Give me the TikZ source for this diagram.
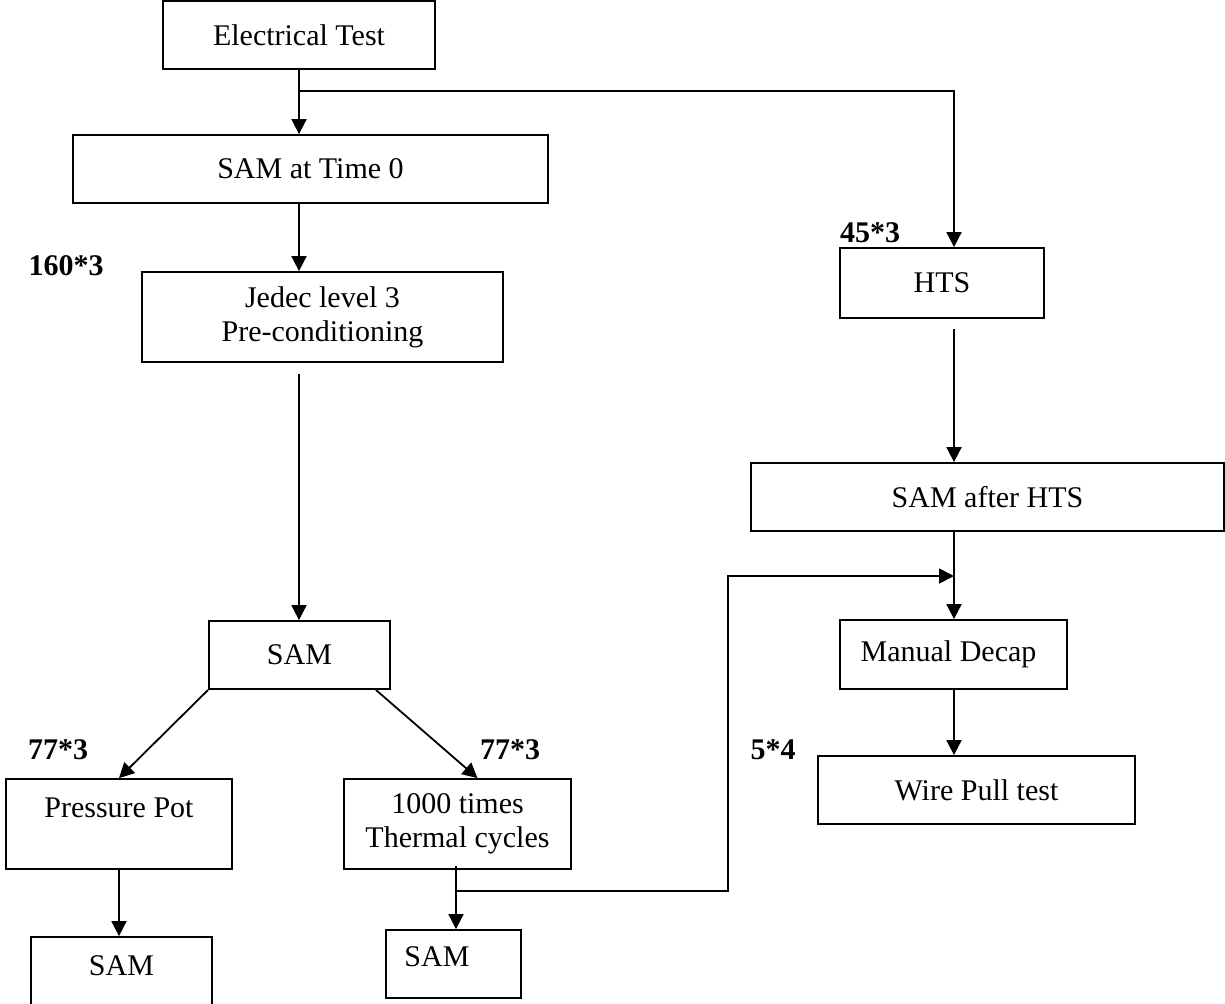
\documentclass[tikz,border=0pt]{standalone}
\usepackage{fontspec}
\setmainfont{Liberation Serif}
\usetikzlibrary{arrows.meta,calc}
\begin{document}
\begin{tikzpicture}[x=0.5pt,y=-0.5pt,
  font=\fontsize{15pt}{17pt}\selectfont,
  box/.style={draw, line width=0.9pt, inner sep=0pt, align=center},
  arr/.style={line width=0.9pt, -{Triangle[width=7.5pt,length=7.5pt]}},
  ln/.style={line width=0.9pt},
  num/.style={font=\fontsize{15pt}{17pt}\selectfont\bfseries, inner sep=0pt}]
\useasboundingbox (0,0) rectangle (1225,1003);

% boxes
\node[box, minimum width=136pt, minimum height=34pt] (et) at (299,35) {Electrical Test};
\node[box, minimum width=237.5pt, minimum height=34pt] (t0) at (310.5,169) {SAM at Time 0};
\node[box, minimum width=180.5pt, minimum height=45pt] (jd) at (322.5,317) {Jedec level 3\\Pre-conditioning};
\node[box, minimum width=102pt, minimum height=35pt] (hts) at (942,283) {HTS};
\node[box, minimum width=236.5pt, minimum height=34pt] (sah) at (987.5,497) {SAM after HTS};
\node[box, minimum width=113.5pt, minimum height=34.5pt] (md) at (953.5,654.5) {Manual Decap\hspace*{5pt}};
\node[box, minimum width=158.5pt, minimum height=34pt] (wp) at (976.5,790) {Wire Pull test};
\node[box, minimum width=90.5pt, minimum height=34pt] (sm) at (299.5,655) {SAM};
\node[box, minimum width=113pt, minimum height=45pt] (pp) at (119,824) {Pressure Pot\\[-6pt]\strut};
\node[box, minimum width=113.5pt, minimum height=45pt] (tc) at (457.5,824) {1000 times\\Thermal cycles};
\node[box, minimum width=90.5pt, minimum height=45pt] (sb1) at (121.5,982) {SAM\\[-6pt]\strut};
\node[box, minimum width=67.5pt, minimum height=34pt] (sb2) at (453.5,964) {};
\node (sb2t) at (437,957) {SAM};

% quantity labels
\node[num] (n1) at (66,266) {160*3};
\node[num] (n2) at (870,233) {45*3};
\node[num] (n3) at (58,750) {77*3};
\node[num] (n4) at (510,750) {77*3};
\node[num] (n5) at (773,750) {5*4};

% helper coordinates
\coordinate (br) at (299,91);
\coordinate (rx) at (954,0);
\coordinate (jdout) at (299,374);
\coordinate (htsout) at (954,329);
\coordinate (tcout) at (456,866);
\coordinate (jn) at (456,891);
\coordinate (up) at (728,576);

% connectors
\draw[arr] (et.south) -- (t0.north -| et.south);
\draw[arr] (br) -| (hts.north -| rx);
\draw[arr] (t0.south -| et.south) -- (jd.north -| et.south);
\draw[arr] (jdout) -- (sm.north -| jdout);
\draw[arr] (sm.south west) -- (pp.north);
\draw[arr] ($(sm.south east)+(-15,0)$) -- ($(tc.north)+(20,0)$);
\draw[arr] (pp.south) -- (pp.south |- sb1.north);
\draw[arr] (tcout) -- (tcout |- sb2.north);
\draw[arr] (jn) -| (up) -- (up -| rx);
\draw[arr] (htsout) -- (sah.north -| rx);
\draw[arr] (sah.south -| rx) -- (md.north -| rx);
\draw[arr] (md.south -| rx) -- (wp.north -| rx);
\end{tikzpicture}
\end{document}
